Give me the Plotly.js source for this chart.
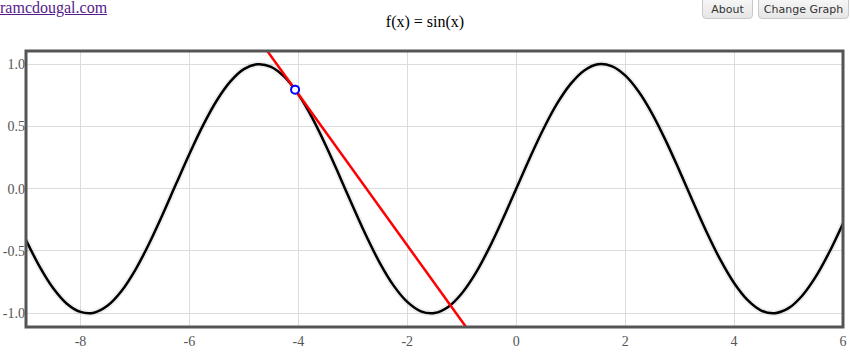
<!DOCTYPE html>
<html>
<head>
<meta charset="utf-8">
<script src="https://cdn.plot.ly/plotly-3.0.1.min.js"></script>
<style>
  html, body { margin: 0; padding: 0; background: #fff; overflow: hidden; }
  #wrap { position: relative; width: 850px; height: 361px; }
  #chart { position: absolute; left: 0; top: 0; width: 850px; height: 361px; }
  #link { position: absolute; left: 0px; top: -1px; font-family: "Liberation Serif", "Times New Roman", serif; font-size: 16px; line-height: 18px; color: #551a8b; text-decoration: underline; z-index: 5; }
  .btn { position: absolute; top: -6px; height: 25px; box-sizing: border-box; border: 1px solid #c8c8c8; border-radius: 0 0 4px 4px; background: linear-gradient(#fafafa, #e6e6e6); font-family: "DejaVu Sans", Verdana, sans-serif; font-size: 11px; color: #333; line-height: 29px; text-align: center; z-index: 5; }
</style>
</head>
<body>
<div id="wrap">
  <div id="chart"></div>
  <a id="link">ramcdougal.com</a>
  <div class="btn" style="left:702px; width:51px;">About</div>
  <div class="btn" style="left:758px; width:91px;">Change Graph</div>
</div>
<script>
const curveX = [-9,-8.75,-8.5,-8.25,-8,-7.75,-7.5,-7.25,-7,-6.75,-6.5,-6.25,-6,-5.75,-5.5,-5.25,-5,-4.75,-4.5,-4.25,-4,-3.75,-3.5,-3.25,-3,-2.75,-2.5,-2.25,-2,-1.75,-1.5,-1.25,-1,-0.75,-0.5,-0.25,0,0.25,0.5,0.75,1,1.25,1.5,1.75,2,2.25,2.5,2.75,3,3.25,3.5,3.75,4,4.25,4.5,4.75,5,5.25,5.5,5.75,6];
const curveY = [-0.412,-0.625,-0.799,-0.923,-0.989,-0.995,-0.938,-0.823,-0.657,-0.450,-0.215,0.033,0.279,0.508,0.706,0.859,0.959,0.999,0.978,0.895,0.757,0.572,0.351,0.108,-0.141,-0.382,-0.599,-0.778,-0.909,-0.984,-0.998,-0.949,-0.841,-0.682,-0.479,-0.247,0,0.247,0.479,0.682,0.841,0.949,0.998,0.984,0.909,0.778,0.599,0.382,0.141,-0.108,-0.351,-0.572,-0.757,-0.895,-0.978,-0.999,-0.959,-0.859,-0.706,-0.508,-0.279];
// tangent point and tangent line ends
const pointX = [-4.06];
const pointY = [0.795];
const tangentX = [-6, 0];
const tangentY = [1.973, -1.669];
const xTicks = [-8, -6, -4, -2, 0, 2, 4, 6];
const yTicks = [-1.0, -0.5, 0.0, 0.5, 1.0];

const serif = 'Liberation Serif, Times New Roman, serif';

const traces = [
  { x: curveX, y: curveY, mode: 'lines', line: { color: 'rgba(0,0,0,0.07)', width: 6, shape: 'spline' }, hoverinfo: 'skip', showlegend: false },
  { x: curveX, y: curveY, mode: 'lines', line: { color: '#000', width: 2.5, shape: 'spline' }, showlegend: false },
  { x: tangentX, y: tangentY, mode: 'lines', line: { color: '#ff0000', width: 2.5 }, showlegend: false },
  { x: pointX, y: pointY, mode: 'markers', marker: { symbol: 'circle', size: 8, color: '#fff', line: { color: '#0000ff', width: 2 } }, showlegend: false }
];

const layout = {
  width: 850, height: 361,
  margin: { l: 26, r: 7, t: 51, b: 34 },
  font: { family: serif, size: 14, color: '#555' },
  paper_bgcolor: '#fff', plot_bgcolor: '#fff',
  title: { text: 'f(x) = sin(x)', x: 0.5, xanchor: 'center', y: 0.94, yanchor: 'middle', font: { family: serif, size: 16, color: '#000' } },
  xaxis: { range: [-9, 6], tickvals: xTicks, ticktext: xTicks.map(String), showgrid: true, gridcolor: '#dcdcdc', gridwidth: 1, zeroline: false, showline: false, ticks: '', ticklabelstandoff: 4, tickfont: { family: serif, size: 14, color: '#555' }, fixedrange: true },
  yaxis: { range: [-1.11, 1.105], tickvals: yTicks, ticktext: yTicks.map(v => v.toFixed(1)), showgrid: true, gridcolor: '#dcdcdc', gridwidth: 1, zeroline: false, showline: false, ticks: '', tickfont: { family: serif, size: 14, color: '#555' }, fixedrange: true },
  shapes: [
    { type: 'rect', xref: 'paper', yref: 'paper', x0: 0, x1: 1, y0: 0, y1: 1, line: { color: '#555', width: 3 }, layer: 'above' }
  ]
};

Plotly.newPlot('chart', traces, layout, { displayModeBar: false, staticPlot: true });
</script>
</body>
</html>
